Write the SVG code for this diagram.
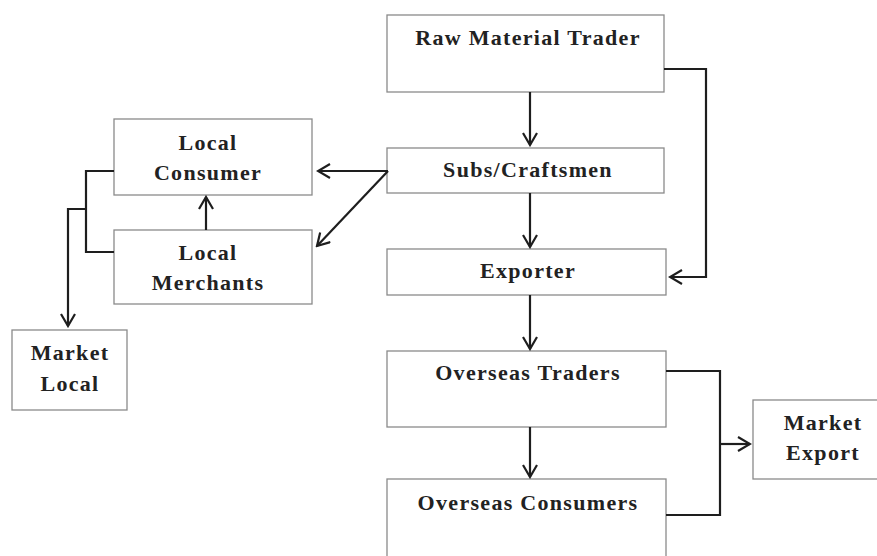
<svg xmlns="http://www.w3.org/2000/svg" width="877" height="556" viewBox="0 0 877 556">
<defs>
<style>
.box{fill:#fff;stroke:#8a8a8a;stroke-width:1.3}
.t{font-family:"Liberation Serif","Times New Roman",serif;font-weight:bold;font-size:22px;letter-spacing:1.3px;fill:#222;text-anchor:middle}
.c{fill:none;stroke:#1e1e1e;stroke-width:2.2}
</style>
<marker id="ah" viewBox="-13 -8 15 16" refX="0" refY="0" markerWidth="15" markerHeight="16" markerUnits="userSpaceOnUse" orient="auto">
<path d="M-12,-7 L0,0 L-12,7" fill="none" stroke="#1e1e1e" stroke-width="2.2"/>
</marker>
</defs>
<rect width="877" height="556" fill="#fff"/>
<g id="raw"><rect class="box" x="387" y="15" width="277" height="77"/><text class="t" x="528" y="45">Raw Material Trader</text></g>
<g id="subs"><rect class="box" x="387" y="148" width="277" height="45"/><text class="t" x="528" y="177">Subs/Craftsmen</text></g>
<g id="exporter"><rect class="box" x="387" y="249" width="279" height="46"/><text class="t" x="528" y="278">Exporter</text></g>
<g id="otraders"><rect class="box" x="387" y="351" width="279" height="76"/><text class="t" x="528" y="380">Overseas Traders</text></g>
<g id="oconsumers"><rect class="box" x="387" y="479" width="279" height="90"/><text class="t" x="528" y="510">Overseas Consumers</text></g>
<g id="mexport"><rect class="box" x="753" y="400" width="130" height="79"/><text class="t" x="823" y="430">Market</text><text class="t" x="823" y="460">Export</text></g>
<g id="lconsumer"><rect class="box" x="114" y="119" width="198" height="76"/><text class="t" x="208" y="150">Local</text><text class="t" x="208" y="180">Consumer</text></g>
<g id="lmerchants"><rect class="box" x="114" y="230" width="198" height="74"/><text class="t" x="208" y="260">Local</text><text class="t" x="208" y="290">Merchants</text></g>
<g id="mlocal"><rect class="box" x="12" y="330" width="115" height="80"/><text class="t" x="70" y="360">Market</text><text class="t" x="70" y="391">Local</text></g>
<g id="connectors">
<path class="c" d="M530,92 V145" marker-end="url(#ah)"/>
<path class="c" d="M530,193 V247" marker-end="url(#ah)"/>
<path class="c" d="M664,69 H706 V277 H670" marker-end="url(#ah)"/>
<path class="c" d="M530,295 V349" marker-end="url(#ah)"/>
<path class="c" d="M530,427 V477" marker-end="url(#ah)"/>
<path class="c" d="M666,371 H720 V515 H666"/>
<path class="c" d="M720,444 H750" marker-end="url(#ah)"/>
<path class="c" d="M388,171 H318" marker-end="url(#ah)"/>
<path class="c" d="M388,171 L317,246" marker-end="url(#ah)"/>
<path class="c" d="M206,230 V197" marker-end="url(#ah)"/>
<path class="c" d="M114,171 H86 V252 H114"/>
<path class="c" d="M86,209 H68 V326" marker-end="url(#ah)"/>
</g>
</svg>
